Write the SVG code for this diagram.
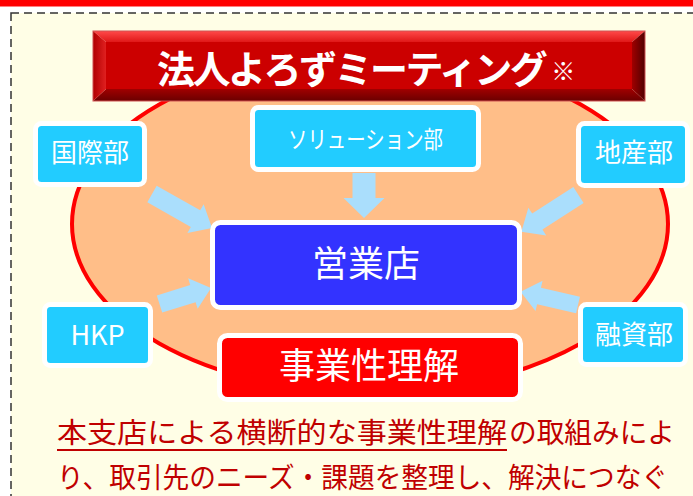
<svg xmlns="http://www.w3.org/2000/svg" width="693" height="496" viewBox="0 0 693 496">
<defs>
<style>
.node{fill:#22CCFF;stroke:#FFFFFF;stroke-width:5}
.lbl{font-family:"Noto Sans CJK JP","Noto Sans",sans-serif;fill:#FFFFFF;text-anchor:middle}
.arr{fill:#AADEFC}
.body{font-family:"Noto Sans CJK JP",sans-serif;fill:#C00000;font-size:28px}
</style>
<linearGradient id="gTop" x1="0" y1="0" x2="0" y2="1"><stop offset="0" stop-color="#FF4A4A"/><stop offset="1" stop-color="#E01818"/></linearGradient>
<linearGradient id="gBot" x1="0" y1="0" x2="0" y2="1"><stop offset="0" stop-color="#A00000"/><stop offset="1" stop-color="#6A0000"/></linearGradient>
<linearGradient id="gLeft" x1="0" y1="0" x2="1" y2="0"><stop offset="0" stop-color="#B00000"/><stop offset="1" stop-color="#E02020"/></linearGradient>
<linearGradient id="gRight" x1="0" y1="0" x2="1" y2="0"><stop offset="0" stop-color="#A00000"/><stop offset="1" stop-color="#500000"/></linearGradient>
</defs>
<rect x="0" y="0" width="693" height="496" fill="#FFFFFF"/>
<rect x="11" y="13" width="700" height="500" fill="#FFFEE6" stroke="#333333" stroke-width="1.5" stroke-dasharray="8,5"/>
<rect x="0" y="0" width="693" height="6.5" fill="#FF0000"/>

<ellipse cx="370" cy="224" rx="298" ry="169" fill="#FFBE88" stroke="#FF0000" stroke-width="4"/>

<g id="connectors">
<path class="arr" d="M0,-9.5 H50 V-16.5 L69,0 L50,16.5 V9.5 H0 Z" transform="translate(152,194) rotate(29.5)"/>
<path class="arr" d="M0,-11.5 H25 V-20.5 L45,0 L25,20.5 V11.5 H0 Z" transform="translate(364,173) rotate(90)"/>
<path class="arr" d="M0,-9.5 H49 V-16.5 L68,0 L49,16.5 V9.5 H0 Z" transform="translate(578.5,195) rotate(147.2)"/>
<path class="arr" d="M0,-9 H35 V-16 L54,0 L35,16 V9 H0 Z" transform="translate(159.5,304) rotate(-17.3)"/>
<path class="arr" d="M0,-8.5 H40 V-15.5 L59,0 L40,15.5 V8.5 H0 Z" transform="translate(578,305) rotate(193.1)"/>
</g>

<g id="title">
<polygon points="106,42 632,42 632,89 106,89" fill="#CC0000"/>
<polygon points="93,31 645,31 632,42 106,42" fill="url(#gTop)"/>
<polygon points="93,101 645,101 632,89 106,89" fill="url(#gBot)"/>
<polygon points="93,31 106,42 106,89 93,101" fill="url(#gLeft)"/>
<polygon points="645,31 632,42 632,89 645,101" fill="url(#gRight)"/>
<rect x="93" y="31" width="552" height="70" fill="none" stroke="#D05050" stroke-width="1"/>
<text x="157" y="83" font-family="'Noto Sans CJK JP',sans-serif" font-weight="700" font-size="38" fill="#FFFFFF" letter-spacing="-2.5">法人よろずミーティング<tspan font-size="24" dy="-3" dx="6" letter-spacing="0">※</tspan></text>
</g>

<g id="n-kokusai">
<rect class="node" x="35.5" y="123.5" width="109" height="61" rx="6"/>
<text class="lbl" x="90" y="161.5" font-size="26">国際部</text>
</g>
<g id="n-solution">
<rect class="node" x="252.5" y="107.5" width="226" height="62" rx="6"/>
<text class="lbl" x="365.5" y="148" font-size="24" textLength="155" lengthAdjust="spacingAndGlyphs">ソリューション部</text>
</g>
<g id="n-chisan">
<rect class="node" x="578.5" y="123.5" width="109" height="62" rx="6"/>
<text class="lbl" x="634" y="162" font-size="26">地産部</text>
</g>
<g id="n-hkp">
<rect class="node" x="44.5" y="304.5" width="106" height="61" rx="6"/>
<text class="lbl" x="97.5" y="344.5" font-size="27">HKP</text>
</g>
<g id="n-yushi">
<rect class="node" x="580.5" y="304.5" width="105" height="60" rx="6"/>
<text class="lbl" x="634" y="343.5" font-size="26">融資部</text>
</g>
<g id="n-eigyo">
<rect x="212.5" y="222.5" width="307" height="85" rx="8" fill="#3333FF" stroke="#FFFFFF" stroke-width="5"/>
<text class="lbl" x="366" y="276.5" font-size="36">営業店</text>
</g>
<g id="n-jigyo">
<rect x="219.5" y="335.5" width="301" height="64" rx="8" fill="#FF0000" stroke="#FFFFFF" stroke-width="5"/>
<text class="lbl" x="369" y="378.5" font-size="36">事業性理解</text>
</g>

<g id="caption">
<text class="body" x="57" y="443" textLength="450" lengthAdjust="spacingAndGlyphs">本支店による横断的な事業性理解</text>
<text class="body" x="509" y="443" textLength="166" lengthAdjust="spacingAndGlyphs">の取組みによ</text>
<line x1="57" y1="450" x2="507" y2="450" stroke="#C00000" stroke-width="2"/>
<text class="body" x="57" y="487.5" textLength="611" lengthAdjust="spacingAndGlyphs">り、取引先のニーズ・課題を整理し、解決につなぐ</text>
</g>
</svg>
